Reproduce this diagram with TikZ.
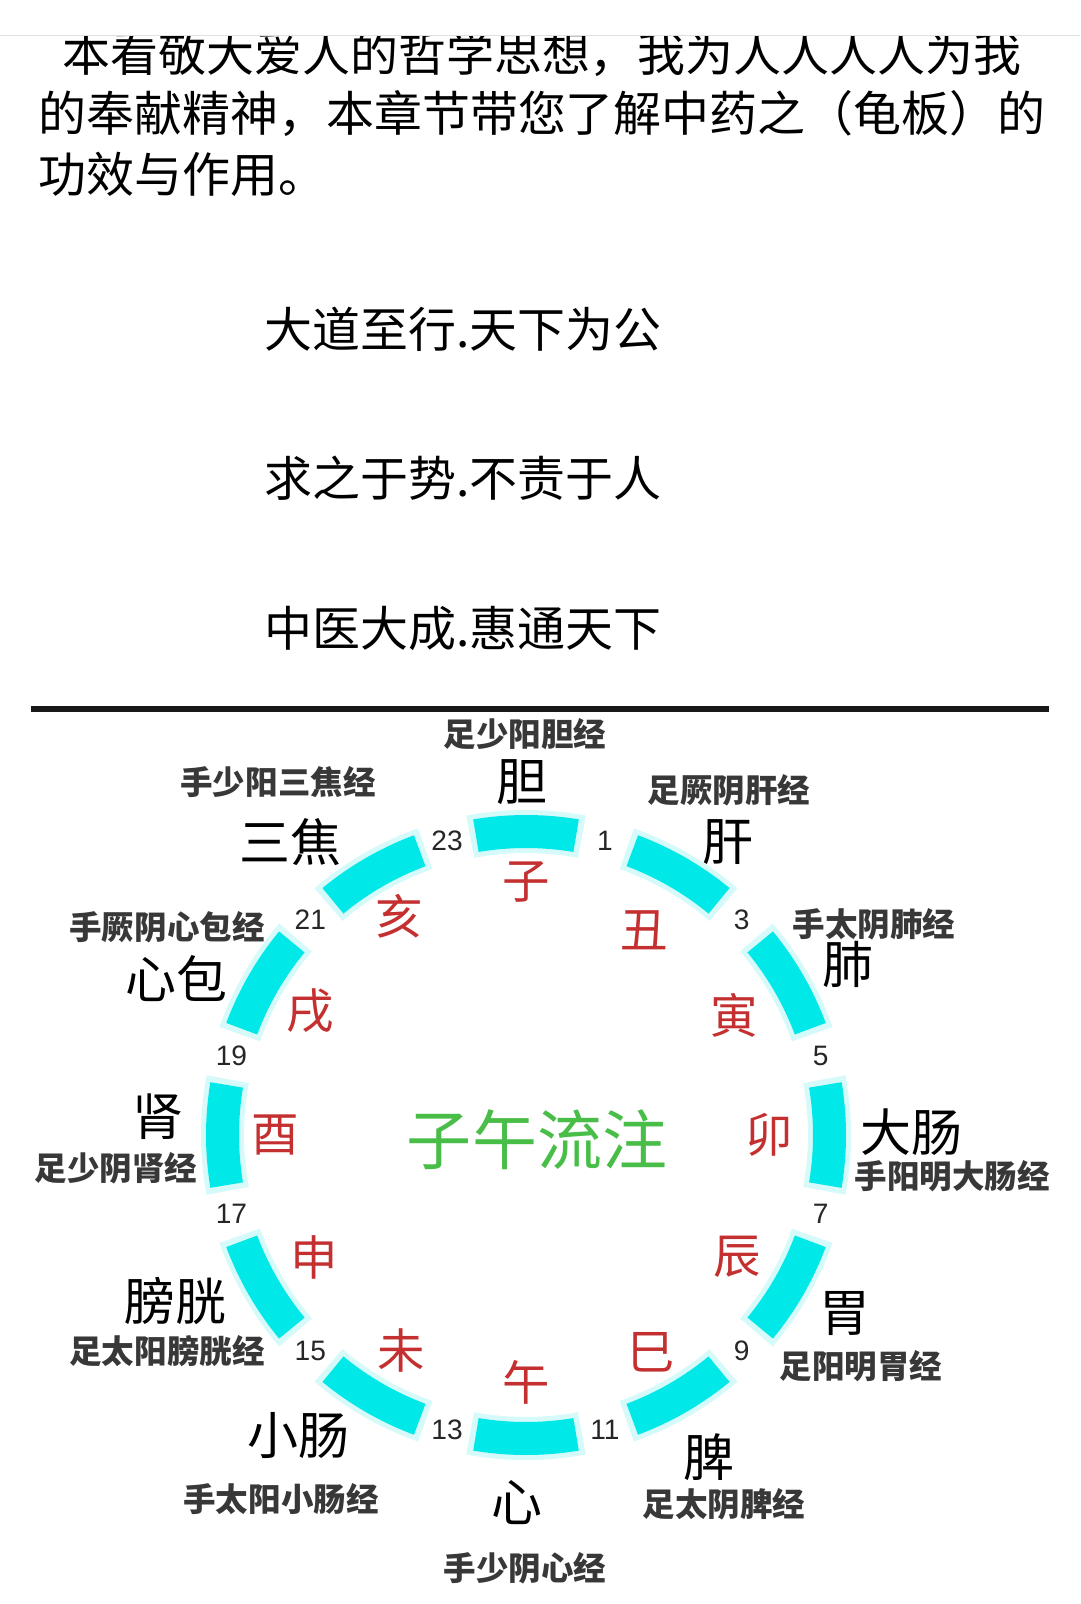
\documentclass[tikz,border=0pt]{standalone}
\usepackage{fontspec}
\setmainfont{Noto Sans CJK SC}
\newfontfamily\numfont{Liberation Sans}
\usetikzlibrary{positioning}
\definecolor{segcyan}{RGB}{0,232,232}
\definecolor{seghalo}{RGB}{214,250,250}
\definecolor{branchred}{RGB}{196,48,48}
\definecolor{flowgreen}{RGB}{72,190,72}
\definecolor{ruleblack}{RGB}{25,25,25}

\begin{document}
\begin{tikzpicture}[
  x=0.02cm, y=-0.02cm,
  intro/.style={anchor=west, inner sep=0pt, font=\fontsize{27.3}{27.3}\selectfont},
  motto/.style={intro},
  organ/.style={inner sep=0pt, font=\fontsize{29}{29}\selectfont},
  meridian/.style={inner sep=0pt, text=black!78, font=\fontsize{18.5}{18.5}\selectfont\bfseries},
  branch/.style={inner sep=0pt, text=branchred, font=\fontsize{27}{27}\selectfont},
  hour/.style={inner sep=0pt, text=black!85, font=\numfont\fontsize{16}{16}\selectfont},
  flowtitle/.style={inner sep=0pt, text=flowgreen, font=\fontsize{37}{37}\selectfont}
]
\useasboundingbox (0,0) rectangle (1080,1604);
\fill[white] (0,0) rectangle (1080,1604);

% intro text, top line cut off by the page edge
\node[intro] (intro1) at (62,54) {本看敬大爱人的哲学思想，我为人人人人为我};
\node[intro] (intro2) at (38,114) {的奉献精神，本章节带您了解中药之（龟板）的};
\node[intro] (intro3) at (38,174) {功效与作用。};
\fill[white] (0,0) rectangle (1080,35);
\draw[black!12, line width=1pt] (0,35.5) -- (1080,35.5);

\node[motto] (motto1) at (264,329) {大道至行.天下为公};
\node[motto] (motto2) at (264,478) {求之于势.不责于人};
\node[motto] (motto3) at (264,628) {中医大成.惠通天下};

\draw[ruleblack, line width=3.4pt] (31,709) -- (1049,709);

% clock of the twelve branches
\begin{scope}[shift={(526,1135)}, yscale=-1]
  \foreach \k/\br/\r in {0/子/253,1/丑/236,2/寅/240,3/卯/243,4/辰/244,5/巳/251,
                         6/午/247,7/未/249,8/申/245,9/酉/251,10/戌/249,11/亥/253} {
    \pgfmathsetmacro\a{90-30*\k}
    \pgfmathsetmacro\b{75-30*\k}
    \pgfmathtruncatemacro\h{2*\k+1}
    \fill[seghalo] (\a-10.6:282) -- (\a-10.6:325) arc[start angle=\a-10.6, delta angle=21.2, radius=325]
      -- (\a+10.6:282) arc[start angle=\a+10.6, delta angle=-21.2, radius=282] -- cycle;
    \fill[segcyan] (\a-9.5:287) -- (\a-9.5:320) arc[start angle=\a-9.5, delta angle=19, radius=320]
      -- (\a+9.5:287) arc[start angle=\a+9.5, delta angle=-19, radius=287] -- cycle;
    \node[branch] (br\k) at (\a:\r) {\br};
    \node[hour] (hr\h) at (\b:305) {\h};
  }
  \node[flowtitle] (flow) at (11,-5) {子午流注};
\end{scope}

% organs and their meridians
\node[meridian] (mgb) at (525,734) {足少阳胆经};
\node[organ] (gb) at (522,782) {胆};
\node[meridian] (mlv) at (729,790) {足厥阴肝经};
\node[organ] (lv) at (728,842) {肝};
\node[meridian] (mlu) at (874,924) {手太阴肺经};
\node[organ] (lu) at (848,964) {肺};
\node[organ] (li) at (911,1132) {大肠};
\node[meridian] (mli) at (952,1176) {手阳明大肠经};
\node[organ] (st) at (845,1313) {胃};
\node[meridian] (mst) at (861,1366) {足阳明胃经};
\node[organ] (sp) at (709,1457) {脾};
\node[meridian] (msp) at (724,1504) {足太阴脾经};
\node[organ] (ht) at (517,1503) {心};
\node[meridian] (mht) at (525,1568) {手少阴心经};
\node[organ] (si) at (298,1436) {小肠};
\node[meridian] (msi) at (281,1499) {手太阳小肠经};
\node[organ] (bl) at (175,1301) {膀胱};
\node[meridian] (mbl) at (167,1351) {足太阳膀胱经};
\node[organ] (ki) at (158,1117) {肾};
\node[meridian] (mki) at (116,1168) {足少阴肾经};
\node[organ] (pc) at (176,979) {心包};
\node[meridian] (mpc) at (167,927) {手厥阴心包经};
\node[organ] (sj) at (290,842) {三焦};
\node[meridian] (msj) at (278,782) {手少阳三焦经};

\end{tikzpicture}
\end{document}
